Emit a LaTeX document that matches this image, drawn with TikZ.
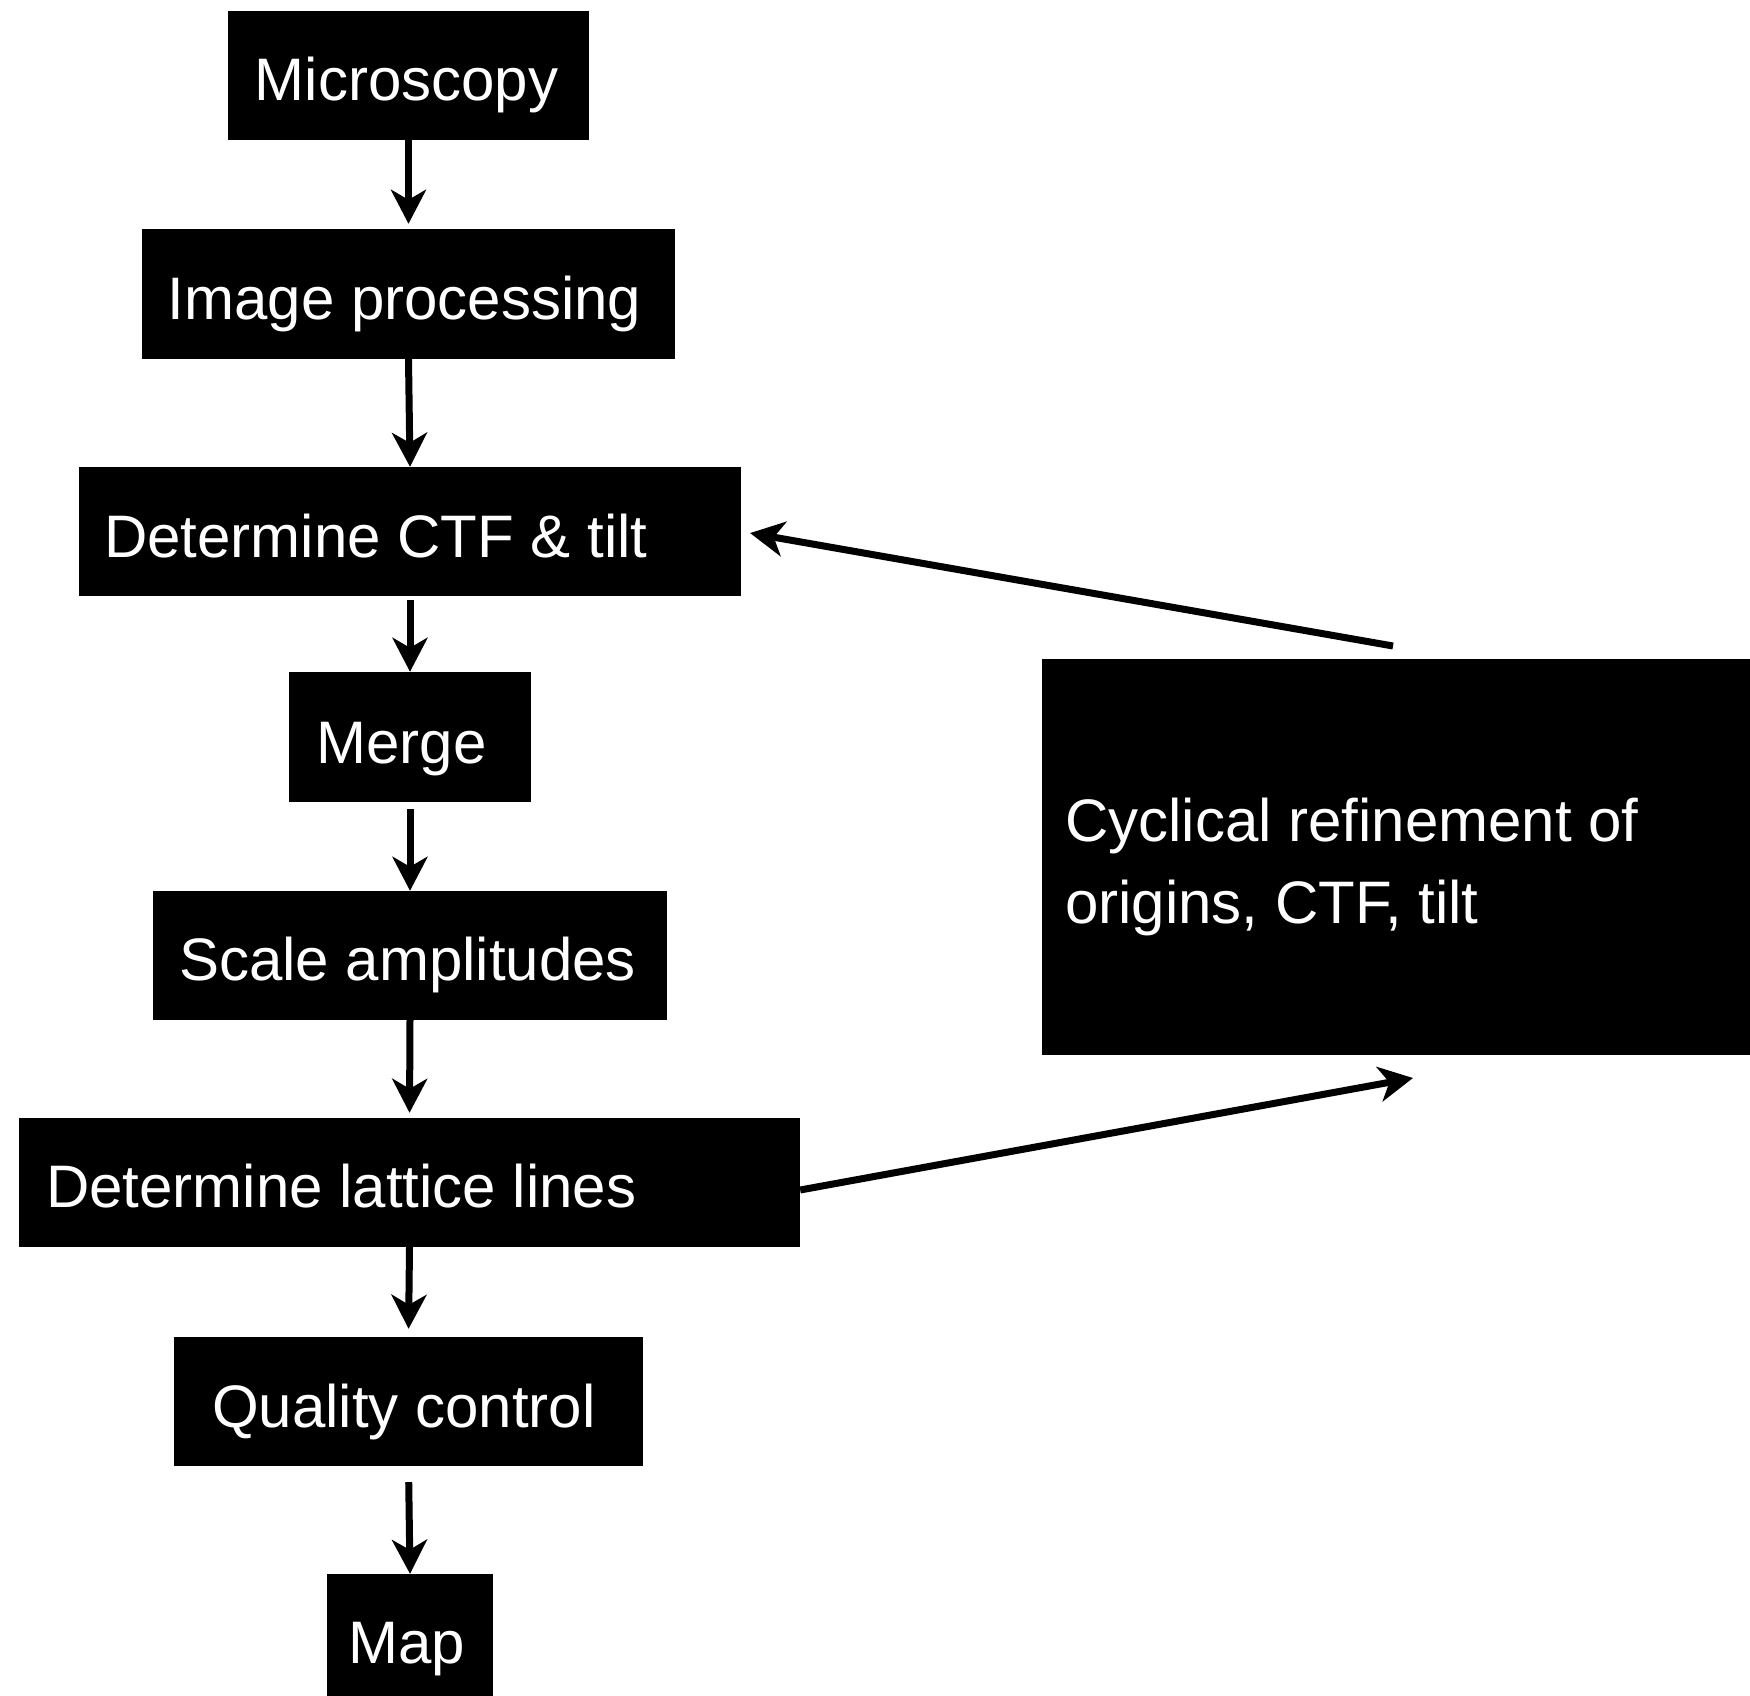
\documentclass[tikz,border=0pt]{standalone}
\usepackage{fontspec}
\setmainfont{Liberation Sans}
\usetikzlibrary{arrows.meta}
\tikzset{
  box/.style={rectangle, fill=black, draw=none, inner sep=0pt},
  lbl/.style={text=white, inner sep=0pt, font=\fontsize{60}{72}\selectfont},
  arr/.style={line width=7pt, draw=black, -{Stealth[length=34pt,width=35pt,inset=10pt]}}
}
\begin{document}
\begin{tikzpicture}[x=1pt,y=-1pt]
\useasboundingbox[fill=white] (0,0) rectangle (1750,1696);
% boxes
\node[box, minimum width=361pt, minimum height=129pt] (mic) at (408.5,75.5) {};
\node[box, minimum width=533pt, minimum height=130pt] (img) at (408.5,294) {};
\node[box, minimum width=662pt, minimum height=129pt] (ctf) at (410,531.5) {};
\node[box, minimum width=242pt, minimum height=130pt] (mrg) at (410,737) {};
\node[box, minimum width=514pt, minimum height=129pt] (scl) at (410,955.5) {};
\node[box, minimum width=781pt, minimum height=129pt] (lat) at (409.5,1182.5) {};
\node[box, minimum width=469pt, minimum height=129pt] (qc) at (408.5,1401.5) {};
\node[box, minimum width=166pt, minimum height=122pt] (map) at (410,1635) {};
\node[box, minimum width=708pt, minimum height=396pt] (cyc) at (1396,857) {};
% labels
\node[lbl, anchor=base] (micT) at (406.5,101) {Microscopy};
\node[lbl, anchor=base] (imgT) at (404.5,319.5) {Image processing};
\node[lbl, anchor=base west] (ctfT) at (104,557.5) {Determine CTF \& tilt};
\node[lbl, anchor=base] (mrgT) at (401.5,763) {Merge};
\node[lbl, anchor=base] (sclT) at (407.5,980) {Scale amplitudes};
\node[lbl, anchor=base west] (latT) at (46,1207) {Determine lattice lines};
\node[lbl, anchor=base] (qcT) at (404,1427) {Quality control};
\node[lbl, anchor=base] (mapT) at (407,1663) {Map};
\node[lbl, anchor=base west] (cyc1) at (1065,841) {Cyclical refinement of};
\node[lbl, anchor=base west] (cyc2) at (1065,923) {origins, CTF, tilt};
% connectors
\draw[arr, shorten >=5pt] (mic.south) -- (img.north);
\draw[arr] (img.south) -- (ctf.north);
\draw[arr, shorten <=4pt] (ctf.south) -- (mrg.north);
\draw[arr, shorten <=7pt] (mrg.south) -- (scl.north);
\draw[arr, shorten >=5pt] (scl.south) -- (lat.north);
\draw[arr, shorten >=8pt] (lat.south) -- (qc.north);
\draw[arr, shorten <=16pt] (qc.south) -- (map.north);
\coordinate (fbstart) at (1393,646);
\coordinate (fbend) at (1413,1078);
\draw[arr, shorten >=9pt] (fbstart) -- (ctf.east);
\draw[arr] ([yshift=-7.5pt]lat.east) -- (fbend);
\end{tikzpicture}
\end{document}
